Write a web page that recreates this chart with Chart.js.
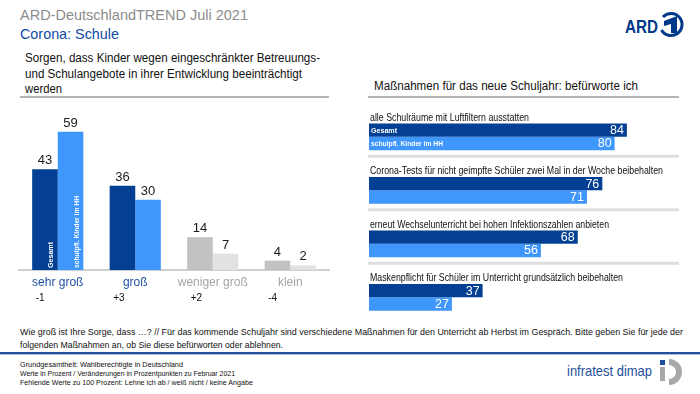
<!DOCTYPE html>
<html>
<head>
<meta charset="utf-8">
<script src="https://cdn.jsdelivr.net/npm/chart.js@4.4.1/dist/chart.umd.min.js"></script>
<style>
  html, body { margin:0; padding:0; background:#ffffff; }
  body { width:700px; height:394px; position:relative; overflow:hidden; font-family:"Liberation Sans", Arial, sans-serif; }
  #overlay { position:absolute; left:0; top:0; }
  #leftWrap { position:absolute; left:0; top:100px; width:340px; height:210px; }
  #rightWrap { position:absolute; left:360px; top:100px; width:340px; height:230px; }
</style>
</head>
<body>
<svg id="overlay" width="700" height="394" xmlns="http://www.w3.org/2000/svg" font-family="Liberation Sans, Arial, sans-serif">
  <text x="20" y="20" font-size="15" fill="#8c8c8c" textLength="228" lengthAdjust="spacingAndGlyphs">ARD-DeutschlandTREND Juli 2021</text>
  <text x="20" y="39" font-size="15" fill="#0d4ba6" textLength="99" lengthAdjust="spacingAndGlyphs">Corona: Schule</text>

  <text x="25" y="62" font-size="12" fill="#111" textLength="295" lengthAdjust="spacingAndGlyphs">Sorgen, dass Kinder wegen eingeschränkter Betreuungs-</text>
  <text x="25" y="78" font-size="12" fill="#111" textLength="277" lengthAdjust="spacingAndGlyphs">und Schulangebote in ihrer Entwicklung beeinträchtigt</text>
  <text x="25" y="93" font-size="12" fill="#111" textLength="37" lengthAdjust="spacingAndGlyphs">werden</text>
  <rect x="20" y="96" width="309" height="2" fill="#b4b4b4"/>

  <text x="374" y="90" font-size="12.5" fill="#111" textLength="264" lengthAdjust="spacingAndGlyphs">Maßnahmen für das neue Schuljahr: befürworte ich</text>
  <rect x="368" y="96" width="311" height="2" fill="#b4b4b4"/>

  <!-- ARD logo -->
  <text x="625" y="33" font-size="19" font-weight="bold" fill="#00388a" textLength="33" lengthAdjust="spacingAndGlyphs">ARD</text>
  <path d="M 663 17 A 11 11 0 1 1 661.5 30" fill="none" stroke="#00388a" stroke-width="3"/>
  <path d="M 664 21 L 677 16 L 677 33 L 671 33 L 671 24 L 664 26 Z" fill="#00388a"/>

  <!-- footer -->
  <text x="20" y="335" font-size="9.5" fill="#111" textLength="663" lengthAdjust="spacingAndGlyphs">Wie groß ist Ihre Sorge, dass …? // Für das kommende Schuljahr sind verschiedene Maßnahmen für den Unterricht ab Herbst im Gespräch. Bitte geben Sie für jede der</text>
  <text x="20" y="348" font-size="9.5" fill="#111" textLength="263" lengthAdjust="spacingAndGlyphs">folgenden Maßnahmen an, ob Sie diese befürworten oder ablehnen.</text>
  <rect x="0" y="352" width="700" height="2" fill="#234f9c"/>
  <rect x="0" y="354" width="700" height="1" fill="#a9bfe0"/>
  <text x="20" y="367" font-size="7.5" fill="#111" textLength="163" lengthAdjust="spacingAndGlyphs">Grundgesamtheit: Wahlberechtigte in Deutschland</text>
  <text x="20" y="376" font-size="7.5" fill="#111" textLength="215" lengthAdjust="spacingAndGlyphs">Werte in Prozent / Veränderungen in Prozentpunkten zu Februar 2021</text>
  <text x="20" y="385" font-size="7.5" fill="#111" textLength="233" lengthAdjust="spacingAndGlyphs">Fehlende Werte zu 100 Prozent: Lehne ich ab / weiß nicht / keine Angabe</text>

  <!-- infratest dimap logo -->
  <text x="567" y="376" font-size="15" fill="#1f4f9c" textLength="85" lengthAdjust="spacingAndGlyphs">infratest dimap</text>
  <rect x="660" y="360" width="5" height="5" fill="#1f4f9c"/>
  <rect x="660" y="367" width="5" height="14" fill="#a8a8a8"/>
  <path d="M 669 362 A 10 10 0 0 1 669 382" fill="none" stroke="#a8a8a8" stroke-width="6"/>
</svg>

<div id="leftWrap"><canvas id="leftChart" width="340" height="210"></canvas></div>
<div id="rightWrap"><canvas id="rightChart" width="340" height="230"></canvas></div>

<script>
// ---------- data ----------
const seriesNames = ['Gesamt', 'schulpfl. Kinder im HH'];

const worryCategories = ['sehr groß', 'groß', 'weniger groß', 'klein'];
const worryGesamt = [43, 36, 14, 4];
const worryKinder = [59, 30, 7, 2];
const worryChanges = ['-1', '+3', '+2', '-4'];

const measureLabels = [
  'alle Schulräume mit Luftfiltern ausstatten',
  'Corona-Tests für nicht geimpfte Schüler zwei Mal in der Woche beibehalten',
  'erneut Wechselunterricht bei hohen Infektionszahlen anbieten',
  'Maskenpflicht für Schüler im Unterricht grundsätzlich beibehalten'
];
const measureGesamt = [84, 76, 68, 37];
const measureKinder = [80, 71, 56, 27];

// ---------- styles ----------
const DARK = '#033f93';
const LIGHT = '#3f96fb';
const GREY1 = '#c2c2c2';
const GREY2 = '#e2e2e2';
const FONT = '"Liberation Sans", Arial, sans-serif';
const seriesLabelWidths = [26, 72];

// ---------- left chart ----------
const leftPlugin = {
  id: 'leftLabels',
  afterDatasetsDraw(chart) {
    const ctx = chart.ctx;
    ctx.save();
    chart.data.datasets.forEach((ds, di) => {
      const meta = chart.getDatasetMeta(di);
      meta.data.forEach((bar, i) => {
        ctx.fillStyle = '#1a1a1a';
        ctx.font = '13px ' + FONT;
        ctx.textAlign = 'center';
        ctx.textBaseline = 'bottom';
        ctx.fillText(String(ds.data[i]), bar.x, bar.y - 2);
        if (i === 0) {
          ctx.save();
          ctx.translate(bar.x + 6, bar.base - 2);
          ctx.rotate(-Math.PI / 2);
          ctx.fillStyle = '#ffffff';
          ctx.font = 'bold 7.5px ' + FONT;
          ctx.textAlign = 'left';
          ctx.textBaseline = 'middle';
          ctx.fillText(ds.label, 0, 0, seriesLabelWidths[di]);
          ctx.restore();
        }
      });
    });
    // change row
    const xs = chart.scales.x;
    ctx.fillStyle = '#111';
    ctx.font = '10px ' + FONT;
    ctx.textAlign = 'left';
    ctx.textBaseline = 'middle';
    worryChanges.forEach((c, i) => {
      ctx.fillText(c, xs.getPixelForValue(i) - 22, 198);
    });
    ctx.restore();
  }
};

new Chart(document.getElementById('leftChart'), {
  type: 'bar',
  data: {
    labels: worryCategories,
    datasets: [
      { label: seriesNames[0], data: worryGesamt, backgroundColor: [DARK, DARK, GREY1, GREY1] },
      { label: seriesNames[1], data: worryKinder, backgroundColor: [LIGHT, LIGHT, GREY2, GREY2] }
    ]
  },
  options: {
    responsive: false,
    devicePixelRatio: 1,
    animation: false,
    categoryPercentage: 0.66,
    barPercentage: 1,
    layout: { padding: { left: 19, right: 11, top: 6, bottom: 0 } },
    plugins: { legend: { display: false }, tooltip: { enabled: false } },
    scales: {
      x: {
        afterFit: (s) => { s.height = 40; },
        grid: { display: false, drawTicks: false },
        border: { display: true, color: '#cfcfcf', width: 2 },
        ticks: {
          padding: 5,
          font: { size: 12, family: FONT },
          color: (c) => (c.index < 2 ? '#2352a3' : '#a6a6a6')
        }
      },
      y: { display: false, min: 0, max: 70 }
    }
  },
  plugins: [leftPlugin]
});

// ---------- right chart ----------
const labelWidths = [159, 293, 239, 253];
const rightPlugin = {
  id: 'rightLabels',
  afterDatasetsDraw(chart) {
    const ctx = chart.ctx;
    const ys = chart.scales.y;
    const area = chart.chartArea;
    ctx.save();
    measureLabels.forEach((t, i) => {
      const cy = ys.getPixelForValue(i);
      ctx.fillStyle = '#111';
      ctx.font = '11px ' + FONT;
      ctx.textAlign = 'left';
      ctx.textBaseline = 'middle';
      ctx.fillText(t, area.left + 1, cy - 19, labelWidths[i]);
      if (i < measureLabels.length - 1) {
        ctx.fillStyle = '#dedede';
        ctx.fillRect(area.left - 1, cy + 18, 311, 3);
      }
    });
    chart.data.datasets.forEach((ds, di) => {
      const meta = chart.getDatasetMeta(di);
      meta.data.forEach((bar, i) => {
        ctx.fillStyle = '#ffffff';
        ctx.font = '12.5px ' + FONT;
        ctx.textAlign = 'right';
        ctx.textBaseline = 'middle';
        ctx.fillText(String(ds.data[i]), bar.x - 3, bar.y + 0.5);
        if (i === 0) {
          ctx.font = 'bold 7.5px ' + FONT;
          ctx.textAlign = 'left';
          ctx.fillText(ds.label, bar.base + 2, bar.y + 0.5, seriesLabelWidths[di]);
        }
      });
    });
    ctx.restore();
  }
};

new Chart(document.getElementById('rightChart'), {
  type: 'bar',
  data: {
    labels: measureLabels,
    datasets: [
      { label: seriesNames[0], data: measureGesamt, backgroundColor: DARK },
      { label: seriesNames[1], data: measureKinder, backgroundColor: LIGHT }
    ]
  },
  options: {
    indexAxis: 'y',
    responsive: false,
    devicePixelRatio: 1,
    animation: false,
    categoryPercentage: 0.5,
    barPercentage: 1,
    layout: { padding: { left: 9, right: 24, top: 10, bottom: 6 } },
    plugins: { legend: { display: false }, tooltip: { enabled: false } },
    scales: {
      x: { display: false, min: 0, max: 100 },
      y: { display: false }
    }
  },
  plugins: [rightPlugin]
});
</script>
</body>
</html>
